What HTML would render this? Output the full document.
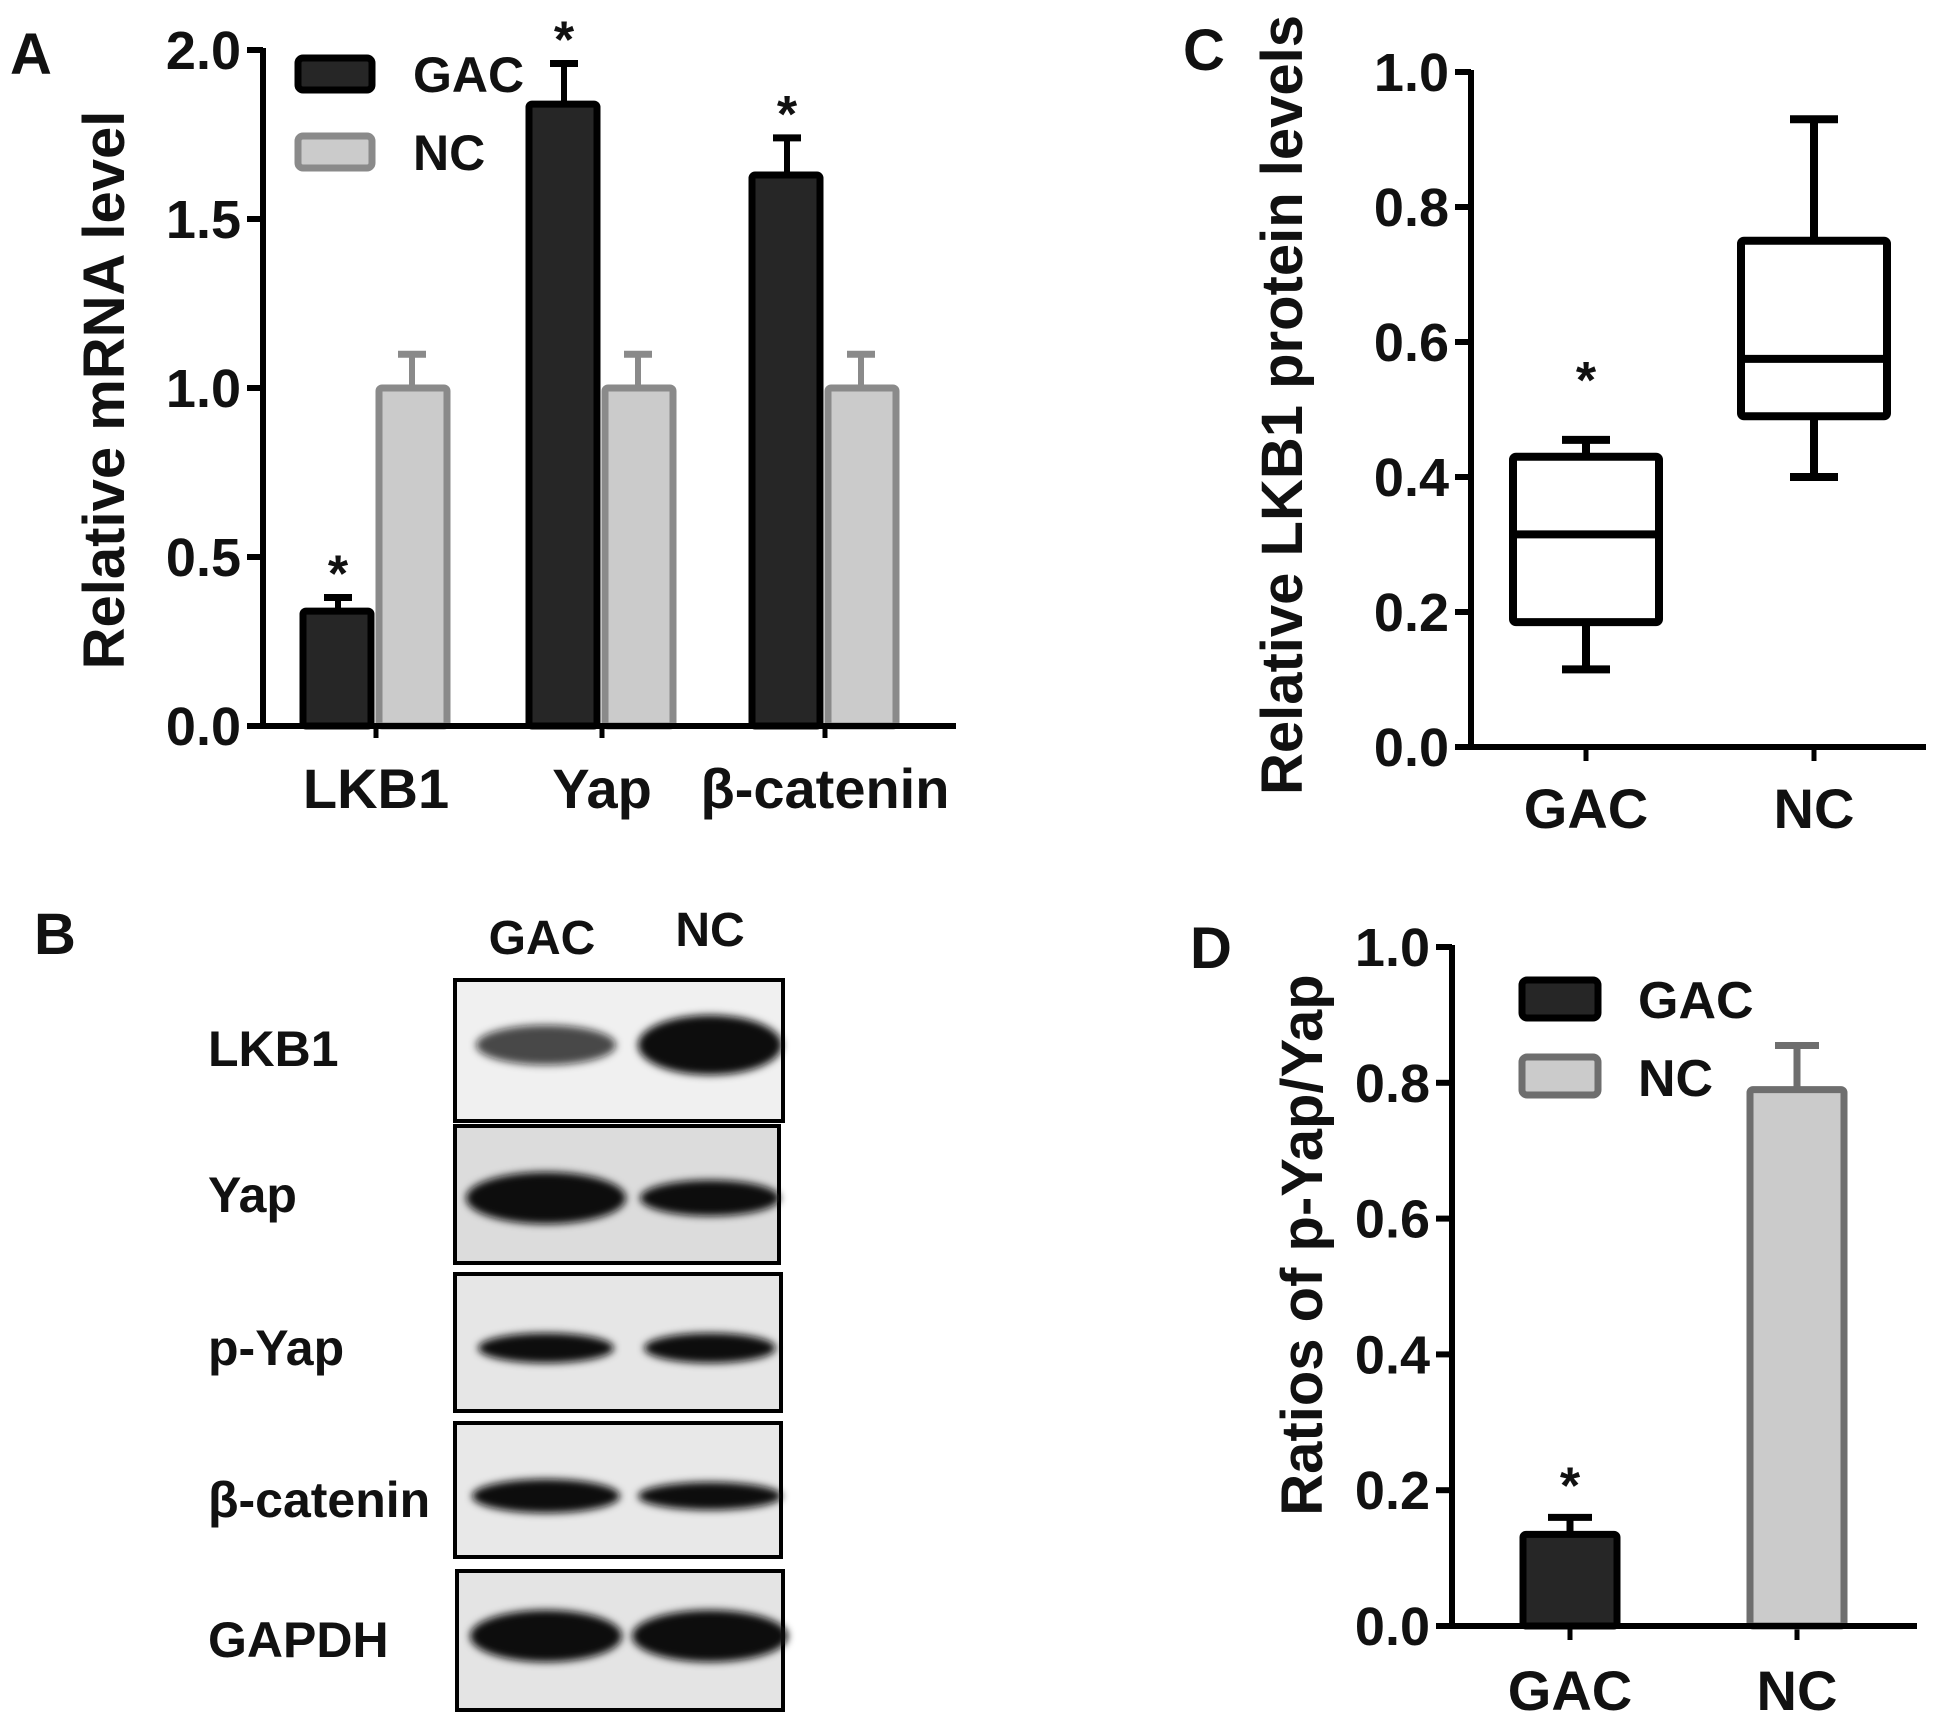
<!DOCTYPE html>
<html><head><meta charset="utf-8"><style>
html,body{margin:0;padding:0;background:#fff}
svg{display:block;font-family:"Liberation Sans",Arial,sans-serif;font-weight:bold}
</style></head><body>
<svg id="fig" width="1946" height="1722" viewBox="0 0 1946 1722" xmlns="http://www.w3.org/2000/svg">
<defs><filter id="blur" x="-20%" y="-50%" width="140%" height="200%"><feGaussianBlur stdDeviation="4"/></filter></defs>
<rect width="1946" height="1722" fill="#fff"/>
<g id="pA"></g>
<g id="pB"></g>
<g id="pC"></g>
<g id="pD"></g>
</svg>
<script>
// Panel A data
const aCategories = ["LKB1","Yap","β-catenin"];
const aGAC = [0.34, 1.84, 1.63];
const aGACErr = [0.04, 0.12, 0.11];
const aNC = [1.0, 1.0, 1.0];
const aNCErr = [0.10, 0.10, 0.10];
const aTicks = ["0.0","0.5","1.0","1.5","2.0"];
// Panel C data (box plots)
const cCategories = ["GAC","NC"];
const cMin = [0.115, 0.40];
const cQ1 = [0.185, 0.49];
const cMed = [0.315, 0.575];
const cQ3 = [0.43, 0.75];
const cMax = [0.455, 0.93];
const cTicks = ["0.0","0.2","0.4","0.6","0.8","1.0"];
// Panel D data
const dCategories = ["GAC","NC"];
const dValues = [0.135, 0.79];
const dErr = [0.025, 0.065];
const dTicks = ["0.0","0.2","0.4","0.6","0.8","1.0"];
// Panel B
const bProteins = ["LKB1","Yap","p-Yap","β-catenin","GAPDH"];

const NS="http://www.w3.org/2000/svg";
const TICK_FS=54, TITLE_FS=58, CAT_FS=56, LEG_FS=50, STAR_FS=52;
function mk(parent,tag,attrs,text){const e=document.createElementNS(NS,tag);for(const k in attrs)e.setAttribute(k,attrs[k]);if(text!==undefined)e.textContent=text;parent.appendChild(e);return e;}

// ---------- Panel A ----------
(function(){
const g=document.getElementById('pA');
const x0=263,y0=726,yTop=50,xEnd=956,vmax=2.0;
const Y=v=>y0-(v/vmax)*(y0-yTop);
const groupX=[376,602,825];
const bw=72;
let t=mk(g,'text',{x:10,y:74,'font-size':58,fill:'#111'},'A');

aTicks.forEach((s,i)=>{const v=parseFloat(s);
 let l=mk(g,'line',{x1:x0-16,x2:x0,y1:Y(v),y2:Y(v),stroke:'#000','stroke-width':6});
 
 let tx=mk(g,'text',{x:x0-22,y:Y(v)+19,'font-size':TICK_FS,'text-anchor':'end',fill:'#111'},s);
 
});
aCategories.forEach((c,i)=>{
 const cx=groupX[i];
 mk(g,'line',{x1:cx,x2:cx,y1:y0+12,y2:y0,stroke:'#000','stroke-width':5});
 const gTop=Y(aGAC[i]);
 let eb=mk(g,'line',{x1:cx-bw/2-2,x2:cx-bw/2-2,y1:gTop,y2:Y(aGAC[i]+aGACErr[i]),stroke:'#000','stroke-width':6});
 
 mk(g,'line',{x1:cx-bw/2-16,x2:cx-bw/2+12,y1:Y(aGAC[i]+aGACErr[i]),y2:Y(aGAC[i]+aGACErr[i]),stroke:'#000','stroke-width':7});
 let b=mk(g,'rect',{x:cx-bw-1,y:gTop,width:bw-4,height:y0-gTop,fill:'#262626',stroke:'#000','stroke-width':7,rx:3});
 
 let st=mk(g,'text',{x:cx-bw/2-2,y:Y(aGAC[i]+aGACErr[i])-6,'font-size':STAR_FS,'text-anchor':'middle',fill:'#111'},'*');
 
 const nTop=Y(aNC[i]);
 let eb2=mk(g,'line',{x1:cx+bw/2,x2:cx+bw/2,y1:nTop,y2:Y(aNC[i]+aNCErr[i]),stroke:'#8a8a8a','stroke-width':6});
 
 mk(g,'line',{x1:cx+bw/2-14,x2:cx+bw/2+14,y1:Y(aNC[i]+aNCErr[i]),y2:Y(aNC[i]+aNCErr[i]),stroke:'#8a8a8a','stroke-width':7});
 let b2=mk(g,'rect',{x:cx+3,y:nTop,width:bw-4,height:y0-nTop,fill:'#cbcbcb',stroke:'#8a8a8a','stroke-width':7,rx:3});
 
 let cl=mk(g,'text',{x:cx,y:808,'font-size':CAT_FS,'text-anchor':'middle',fill:'#111'},c);
 
});
let ax=mk(g,'path',{d:`M${x0},${yTop-2}V${y0}H${xEnd}`,fill:'none',stroke:'#000','stroke-width':6});

let yl=mk(g,'text',{transform:'translate(124,390) rotate(-90)','font-size':TITLE_FS,'text-anchor':'middle',fill:'#111'},'Relative mRNA level');

let lg1=mk(g,'rect',{x:298,y:58,width:74,height:32,rx:5,fill:'#262626',stroke:'#000','stroke-width':7});

let lt1=mk(g,'text',{x:413,y:92,'font-size':LEG_FS,fill:'#111'},'GAC');

let lg2=mk(g,'rect',{x:298,y:136,width:74,height:32,rx:5,fill:'#cbcbcb',stroke:'#8a8a8a','stroke-width':7});

let lt2=mk(g,'text',{x:413,y:170,'font-size':LEG_FS,fill:'#111'},'NC');

})();

// ---------- Panel C ----------
(function(){
const g=document.getElementById('pC');
const x0=1471,y0=747,yTop=72,xEnd=1926;
const Y=v=>y0-v*(y0-yTop);
const cx=[1586,1814];const bw=146;
let t=mk(g,'text',{x:1183,y:70,'font-size':58,fill:'#111'},'C');

cTicks.forEach(s=>{const v=parseFloat(s);
 let l=mk(g,'line',{x1:x0-16,x2:x0,y1:Y(v),y2:Y(v),stroke:'#000','stroke-width':6});
 
 let tx=mk(g,'text',{x:x0-22,y:Y(v)+19,'font-size':TICK_FS,'text-anchor':'end',fill:'#111'},s);
 
});
cCategories.forEach((c,i)=>{
 const x=cx[i];
 mk(g,'line',{x1:x,x2:x,y1:y0,y2:y0+14,stroke:'#000','stroke-width':5});
 let w=mk(g,'path',{d:`M${x},${Y(cMax[i])}V${Y(cQ3[i])}M${x},${Y(cQ1[i])}V${Y(cMin[i])}M${x-24},${Y(cMax[i])}H${x+24}M${x-24},${Y(cMin[i])}H${x+24}`,stroke:'#000','stroke-width':8,fill:'none'});
 
 let b=mk(g,'rect',{x:x-bw/2,y:Y(cQ3[i]),width:bw,height:Y(cQ1[i])-Y(cQ3[i]),fill:'#fff',stroke:'#000','stroke-width':8,rx:3});
 
 let m=mk(g,'line',{x1:x-bw/2,x2:x+bw/2,y1:Y(cMed[i]),y2:Y(cMed[i]),stroke:'#000','stroke-width':8});
 
 let cl=mk(g,'text',{x:x,y:828,'font-size':CAT_FS,'text-anchor':'middle',fill:'#111'},c);
 
});
let st=mk(g,'text',{x:cx[0],y:Y(cMax[0])-42,'font-size':STAR_FS,'text-anchor':'middle',fill:'#111'},'*');

let ax=mk(g,'path',{d:`M${x0},${yTop-2}V${y0}H${xEnd}`,fill:'none',stroke:'#000','stroke-width':6});

let yl=mk(g,'text',{transform:'translate(1302,405) rotate(-90)','font-size':TITLE_FS,'text-anchor':'middle',fill:'#111'},'Relative LKB1 protein levels');

})();

// ---------- Panel D ----------
(function(){
const g=document.getElementById('pD');
const x0=1452,y0=1626,yTop=947,xEnd=1917;
const Y=v=>y0-v*(y0-yTop);
const cx=[1570,1797];const bw=94;
const fills=['#262626','#cbcbcb'],strokes=['#000','#6e6e6e'];
let t=mk(g,'text',{x:1190,y:968,'font-size':58,fill:'#111'},'D');

dTicks.forEach(s=>{const v=parseFloat(s);
 let l=mk(g,'line',{x1:x0-16,x2:x0,y1:Y(v),y2:Y(v),stroke:'#000','stroke-width':6});
 
 let tx=mk(g,'text',{x:x0-22,y:Y(v)+19,'font-size':TICK_FS,'text-anchor':'end',fill:'#111'},s);
 
});
dCategories.forEach((c,i)=>{
 const x=cx[i];
 mk(g,'line',{x1:x,x2:x,y1:y0,y2:y0+14,stroke:'#000','stroke-width':5});
 const top=Y(dValues[i]),et=Y(dValues[i]+dErr[i]);
 let e=mk(g,'path',{d:`M${x},${top}V${et}M${x-22},${et}H${x+22}`,stroke:strokes[i],'stroke-width':7,fill:'none'});
 
 let b=mk(g,'rect',{x:x-bw/2,y:top,width:bw,height:y0-top,fill:fills[i],stroke:strokes[i],'stroke-width':7,rx:3});
 
 let cl=mk(g,'text',{x:x,y:1710,'font-size':CAT_FS,'text-anchor':'middle',fill:'#111'},c);
 
});
let st=mk(g,'text',{x:cx[0],y:Y(dValues[0]+dErr[0])-14,'font-size':STAR_FS,'text-anchor':'middle',fill:'#111'},'*');

let ax=mk(g,'path',{d:`M${x0},${yTop-2}V${y0}H${xEnd}`,fill:'none',stroke:'#000','stroke-width':6});

let yl=mk(g,'text',{transform:'translate(1322,1245) rotate(-90)','font-size':TITLE_FS,'text-anchor':'middle',fill:'#111'},'Ratios of p-Yap/Yap');

let lg1=mk(g,'rect',{x:1522,y:980,width:76,height:38,rx:5,fill:'#262626',stroke:'#000','stroke-width':7});

let lt1=mk(g,'text',{x:1638,y:1018,'font-size':LEG_FS+2,fill:'#111'},'GAC');

let lg2=mk(g,'rect',{x:1522,y:1057,width:76,height:38,rx:5,fill:'#cbcbcb',stroke:'#6e6e6e','stroke-width':7});

let lt2=mk(g,'text',{x:1638,y:1096,'font-size':LEG_FS+2,fill:'#111'},'NC');

})();

// ---------- Panel B (western blot) ----------
(function(){
const g=document.getElementById('pB');
let t=mk(g,'text',{x:34,y:954,'font-size':58,fill:'#111'},'B');

let h1=mk(g,'text',{x:542,y:954,'font-size':48,'text-anchor':'middle',fill:'#111'},'GAC');

let h2=mk(g,'text',{x:710,y:946,'font-size':48,'text-anchor':'middle',fill:'#111'},'NC');

const boxes=[[455,980,328,141],[455,1126,324,137],[455,1274,326,137],[455,1423,326,134],[457,1571,326,139]];
const bgs=['#f0f0f0','#dcdcdc','#e6e6e6','#e8e8e8','#e4e4e4'];
const bands=[[70,20,72,30,0.75],[80,26,70,18,1],[68,15,66,15,1],[74,17,72,14,1],[76,26,78,26,1]];
const bandY=[1049,1202,1352,1500,1640];
bProteins.forEach((p,i)=>{
 const [x,y,w,h]=boxes[i];
 let r=mk(g,'rect',{x:x,y:y,width:w,height:h,fill:bgs[i],stroke:'#000','stroke-width':4});
 
 const bd=bands[i];
 let e1=mk(g,'ellipse',{cx:546,cy:bandY[i]-4,rx:bd[0],ry:bd[1],fill:'#111','fill-opacity':bd[4],filter:'url(#blur)'});
 
 let e2=mk(g,'ellipse',{cx:710,cy:bandY[i]-4,rx:bd[2],ry:bd[3],fill:'#111',filter:'url(#blur)'});
 
 let l=mk(g,'text',{x:208,y:[1066,1212,1365,1517,1657][i],'font-size':50,fill:'#111'},p);
 
});
})();
</script>
</body></html>
